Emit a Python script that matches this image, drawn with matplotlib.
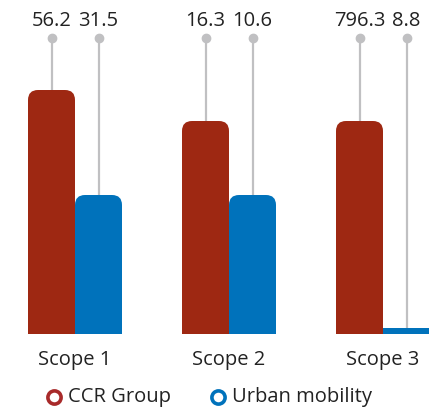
import matplotlib
matplotlib.use("Agg")
import matplotlib.pyplot as plt
from matplotlib.patches import FancyBboxPatch
import numpy as np

plt.rcParams['font.family'] = ['Open Sans', 'DejaVu Sans']

categories = ["Scope 1", "Scope 2", "Scope 3"]
series_names = ["CCR Group", "Urban mobility"]
ccr_labels = ["56.2", "16.3", "796.3"]
urban_labels = ["31.5", "10.6", "8.8"]
# displayed bar heights (chart is not drawn to a common scale)
ccr_heights = [244, 213, 213]
urban_heights = [139, 139, 6]

RED = "#9e2812"
BLUE = "#0072bb"
GRAY = "#c0c0c2"
TEXT = "#222222"

W, H = 429, 408
fig = plt.figure(figsize=(W / 100, H / 100), dpi=100)
ax = fig.add_axes([0, 0, 1, 1])
ax.set_xlim(-75 / 154, (W - 75) / 154)
ax.set_ylim(-(H - 334), 334)
ax.axis("off")

x = np.arange(len(categories))
bw = 47 / 154
aspect = 154.0
r = 10 / 154
top_y = 296

def draw_bars(xs, heights, color, labels):
    for xi, h, lab in zip(xs, heights, labels):
        # gray leader line + dot
        ax.plot([xi, xi], [h, top_y], color=GRAY, lw=1.6, zorder=1,
                solid_capstyle="butt")
        ax.plot([xi], [top_y], "o", color=GRAY, ms=6, zorder=2)
        ax.text(xi, 313, lab, ha="center", va="center", fontsize=14.5,
                color=TEXT)
        if h > 2 * r * aspect:
            p = FancyBboxPatch((xi - bw / 2, 0), bw, h,
                               boxstyle=f"round,pad=0,rounding_size={r}",
                               mutation_aspect=aspect, fc=color, ec="none",
                               zorder=3)
            ax.add_patch(p)
            ax.bar(xi, h / 2, width=bw, color=color, zorder=3, lw=0)
        else:
            ax.bar(xi, h, width=bw, color=color, zorder=3, lw=0)

draw_bars(x - bw / 2, ccr_heights, RED, ccr_labels)
draw_bars(x + bw / 2, urban_heights, BLUE, urban_labels)

for xi, c in zip(x, categories):
    ax.text(xi, -26, c, ha="center", va="center", fontsize=14.5, color=TEXT)

# legend
def px2x(px):
    return (px - 75) / 154

leg_y = -63
for mx, tx, name, col in [(54, 68, series_names[0], "#a82a2a"),
                          (218, 232, series_names[1], BLUE)]:
    ax.plot([px2x(mx)], [leg_y], "o", ms=9.5, mfc="white", mec=col, mew=2.6,
            clip_on=False)
    ax.text(px2x(tx), leg_y, name, ha="left", va="center", fontsize=14.5,
            color=TEXT)

fig.savefig("out.png", dpi=100)
